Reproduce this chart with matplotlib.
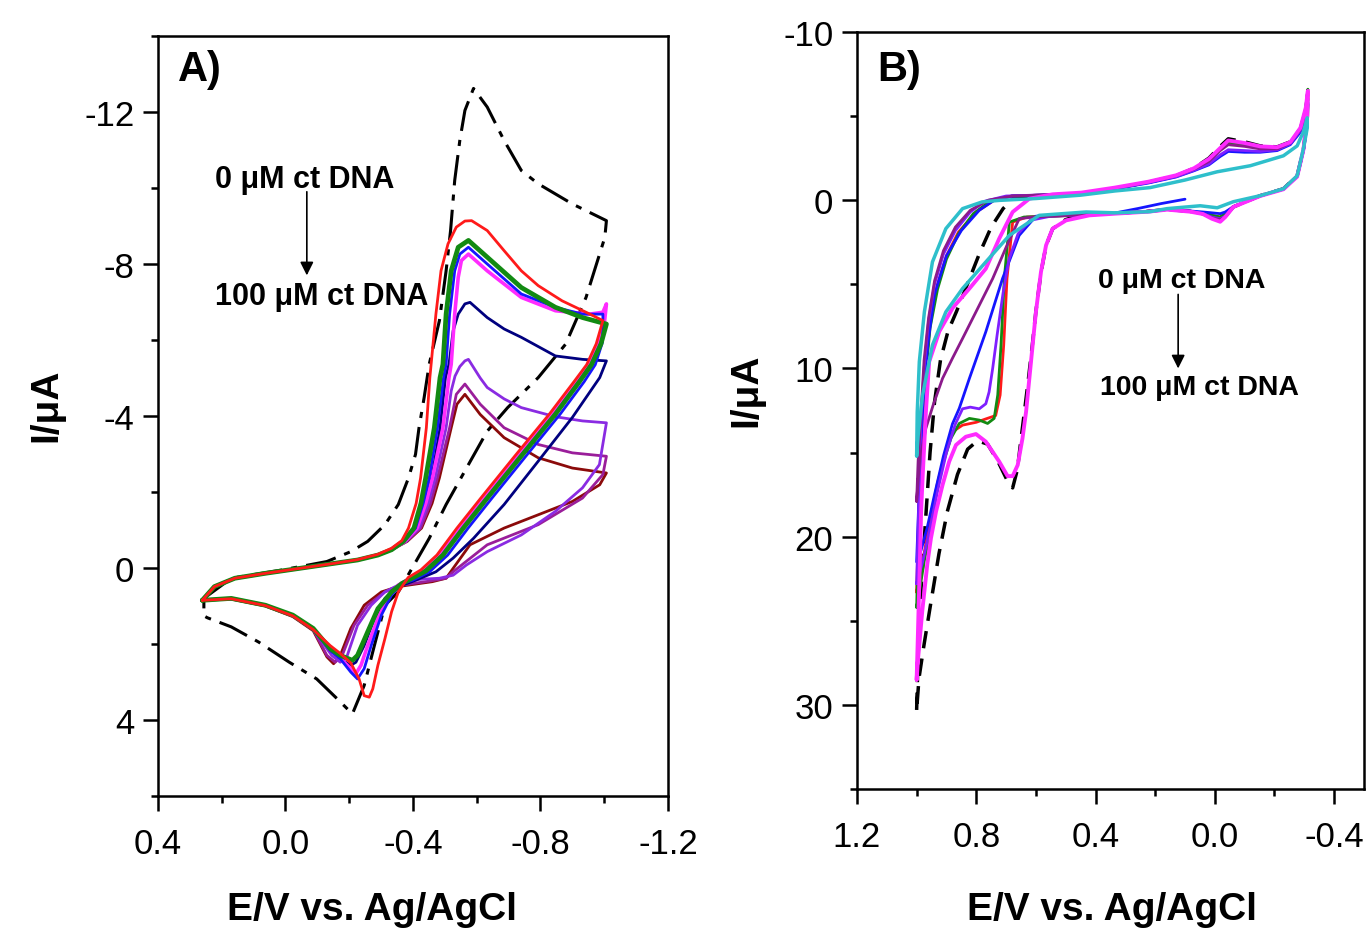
import matplotlib
matplotlib.use("Agg")
import matplotlib.pyplot as plt
from matplotlib.ticker import MultipleLocator, FormatStrFormatter

plt.rcParams["font.family"] = ["Liberation Sans", "DejaVu Sans"]
plt.rcParams["axes.unicode_minus"] = False

# ---------------- Panel A: (E / V, I / uA), one closed loop per curve ----------------
A_BLACK = [(0.256, 0.80), (0.170, 0.27), (0.009, 0.05), (-0.130, -0.17), (-0.205, -0.43),
           (-0.258, -0.70), (-0.312, -1.14), (-0.354, -1.67), (-0.386, -2.37), (-0.408, -2.99),
           (-0.419, -3.69), (-0.435, -4.48), (-0.451, -5.36), (-0.483, -6.51), (-0.504, -7.82),
           (-0.518, -8.88), (-0.531, -10.20), (-0.547, -11.25), (-0.563, -12.04), (-0.590, -12.62),
           (-0.633, -12.13), (-0.686, -11.25), (-0.740, -10.46), (-0.793, -10.11), (-0.900, -9.58),
           (-1.007, -9.14), (-1.002, -8.70), (-0.943, -7.12), (-0.879, -5.89), (-0.793, -5.01),
           (-0.697, -4.22), (-0.633, -3.60), (-0.568, -2.63), (-0.504, -1.67), (-0.451, -0.78),
           (-0.397, 0.01), (-0.354, 0.63), (-0.312, 0.98), (-0.279, 2.04), (-0.247, 3.09),
           (-0.210, 3.84), (-0.162, 3.44), (-0.098, 2.92), (-0.012, 2.48), (0.084, 1.95),
           (0.170, 1.55), (0.245, 1.31), (0.256, 1.26), (0.256, 0.80)]

A_RED = [(0.261, 0.85), (0.223, 0.49), (0.159, 0.27), (0.063, 0.14), (-0.044, 0.01),
         (-0.151, -0.12), (-0.226, -0.22), (-0.290, -0.36), (-0.333, -0.52), (-0.365, -0.72),
         (-0.386, -1.05), (-0.410, -1.70), (-0.424, -2.37), (-0.442, -3.69), (-0.453, -5.01),
         (-0.472, -6.68), (-0.488, -7.82), (-0.510, -8.53), (-0.536, -8.97), (-0.563, -9.13),
         (-0.584, -9.14), (-0.633, -8.88), (-0.686, -8.35), (-0.740, -7.82), (-0.793, -7.43),
         (-0.868, -7.03), (-0.943, -6.73), (-0.996, -6.51), (-0.975, -5.90), (-0.945, -5.35),
         (-0.905, -4.90), (-0.828, -4.05), (-0.720, -2.95), (-0.613, -1.84), (-0.538, -1.05),
         (-0.475, -0.34), (-0.425, 0.05), (-0.385, 0.25), (-0.354, 0.63), (-0.333, 1.15),
         (-0.312, 1.86), (-0.290, 2.56), (-0.274, 3.18), (-0.263, 3.40), (-0.247, 3.36),
         (-0.231, 2.92), (-0.205, 2.50), (-0.172, 2.25), (-0.140, 2.04), (-0.087, 1.62),
         (-0.023, 1.26), (0.063, 0.99), (0.170, 0.81), (0.261, 0.85)]

A_GREEN = [(0.261, 0.85), (0.223, 0.49), (0.159, 0.27), (0.063, 0.14), (-0.044, 0.01),
           (-0.151, -0.12), (-0.226, -0.21), (-0.290, -0.34), (-0.333, -0.48), (-0.370, -0.70),
           (-0.403, -1.05), (-0.425, -1.70), (-0.440, -2.37), (-0.467, -3.69), (-0.485, -5.01),
           (-0.494, -5.36), (-0.504, -6.68), (-0.520, -7.82), (-0.542, -8.44), (-0.574, -8.62),
           (-0.633, -8.18), (-0.740, -7.38), (-0.847, -6.86), (-0.932, -6.59), (-1.007, -6.42),
           (-0.990, -5.90), (-0.960, -5.35), (-0.922, -4.90), (-0.847, -4.05), (-0.740, -2.95),
           (-0.633, -1.84), (-0.558, -1.05), (-0.494, -0.34), (-0.440, 0.08), (-0.390, 0.30),
           (-0.365, 0.41), (-0.333, 0.63), (-0.290, 1.07), (-0.258, 1.68), (-0.226, 2.30),
           (-0.210, 2.43), (-0.172, 2.30), (-0.140, 2.12), (-0.087, 1.59), (-0.023, 1.24),
           (0.063, 0.98), (0.170, 0.80), (0.261, 0.85)]

A_BLUE = [(0.261, 0.85), (0.223, 0.49), (0.159, 0.27), (0.063, 0.14), (-0.044, 0.01),
          (-0.151, -0.12), (-0.226, -0.21), (-0.290, -0.34), (-0.333, -0.48), (-0.372, -0.70),
          (-0.408, -1.05), (-0.432, -1.70), (-0.451, -2.37), (-0.477, -3.69), (-0.496, -5.01),
          (-0.504, -5.36), (-0.515, -6.68), (-0.531, -7.82), (-0.547, -8.26), (-0.574, -8.44),
          (-0.633, -8.00), (-0.740, -7.21), (-0.847, -6.86), (-0.932, -6.68), (-0.996, -6.68),
          (-0.995, -5.95), (-0.972, -5.35), (-0.937, -4.90), (-0.862, -4.05), (-0.755, -2.95),
          (-0.648, -1.84), (-0.573, -1.05), (-0.509, -0.34), (-0.452, 0.10), (-0.400, 0.32),
          (-0.365, 0.41), (-0.333, 0.71), (-0.301, 1.24), (-0.269, 2.04), (-0.247, 2.65),
          (-0.226, 2.92), (-0.205, 2.74), (-0.172, 2.39), (-0.140, 2.17), (-0.087, 1.62),
          (-0.023, 1.26), (0.063, 0.99), (0.170, 0.81), (0.261, 0.85)]

A_MAGENTA = [(0.261, 0.85), (0.223, 0.49), (0.159, 0.27), (0.063, 0.14), (-0.044, 0.01),
             (-0.151, -0.12), (-0.226, -0.21), (-0.290, -0.34), (-0.333, -0.48), (-0.375, -0.70),
             (-0.413, -1.05), (-0.440, -1.70), (-0.461, -2.37), (-0.494, -3.69), (-0.513, -5.01),
             (-0.520, -5.36), (-0.531, -6.68), (-0.542, -7.65), (-0.552, -8.09), (-0.574, -8.26),
             (-0.633, -7.82), (-0.740, -7.12), (-0.847, -6.77), (-0.954, -6.68), (-0.996, -6.73),
             (-1.007, -6.95), (-1.000, -6.40), (-0.982, -5.90), (-0.952, -5.35), (-0.912, -4.90),
             (-0.837, -4.05), (-0.730, -2.95), (-0.623, -1.84), (-0.548, -1.05), (-0.484, -0.34),
             (-0.432, 0.08), (-0.385, 0.30), (-0.354, 0.45), (-0.322, 0.80), (-0.290, 1.33),
             (-0.258, 2.04), (-0.237, 2.56), (-0.221, 2.78), (-0.194, 2.56), (-0.162, 2.30),
             (-0.140, 2.14), (-0.087, 1.60), (-0.023, 1.25), (0.063, 0.98), (0.170, 0.80),
             (0.261, 0.85)]

A_NAVY = [(0.261, 0.85), (0.223, 0.49), (0.159, 0.27), (0.063, 0.14), (-0.044, 0.01),
          (-0.151, -0.12), (-0.226, -0.21), (-0.290, -0.34), (-0.333, -0.48), (-0.375, -0.70),
          (-0.413, -1.05), (-0.438, -1.70), (-0.459, -2.37), (-0.485, -3.69), (-0.502, -5.01),
          (-0.513, -5.36), (-0.526, -6.24), (-0.542, -6.68), (-0.563, -6.95), (-0.579, -6.99),
          (-0.633, -6.59), (-0.686, -6.29), (-0.740, -6.07), (-0.847, -5.58), (-0.932, -5.49),
          (-1.007, -5.45), (-0.986, -5.01), (-0.900, -3.96), (-0.793, -2.81), (-0.686, -1.67),
          (-0.590, -0.78), (-0.526, -0.26), (-0.472, 0.10), (-0.397, 0.36), (-0.354, 0.49),
          (-0.312, 0.80), (-0.279, 1.33), (-0.247, 2.04), (-0.221, 2.48), (-0.205, 2.56),
          (-0.178, 2.43), (-0.145, 2.19), (-0.087, 1.60), (-0.023, 1.25), (0.063, 0.98),
          (0.170, 0.80), (0.261, 0.85)]

A_VIOLET = [(0.261, 0.85), (0.223, 0.49), (0.159, 0.27), (0.063, 0.14), (-0.044, 0.01),
            (-0.151, -0.12), (-0.226, -0.21), (-0.290, -0.34), (-0.333, -0.48), (-0.378, -0.70),
            (-0.419, -1.05), (-0.448, -1.70), (-0.470, -2.37), (-0.504, -3.69), (-0.520, -4.66),
            (-0.532, -5.05), (-0.547, -5.30), (-0.563, -5.45), (-0.574, -5.49), (-0.611, -5.00),
            (-0.633, -4.75), (-0.686, -4.45), (-0.740, -4.22), (-0.847, -3.98), (-0.932, -3.87),
            (-1.007, -3.82), (-0.985, -2.72), (-0.932, -2.11), (-0.847, -1.49), (-0.740, -0.87),
            (-0.633, -0.43), (-0.568, -0.08), (-0.526, 0.19), (-0.483, 0.27), (-0.419, 0.30),
            (-0.354, 0.45), (-0.312, 0.63), (-0.269, 0.98), (-0.226, 1.51), (-0.194, 2.30),
            (-0.172, 2.48), (-0.145, 2.30), (-0.087, 1.62), (-0.023, 1.26), (0.063, 0.99),
            (0.170, 0.81), (0.261, 0.85)]

A_PURPLE = [(0.261, 0.85), (0.223, 0.49), (0.159, 0.27), (0.063, 0.14), (-0.044, 0.01),
            (-0.151, -0.12), (-0.226, -0.21), (-0.290, -0.34), (-0.333, -0.48), (-0.380, -0.70),
            (-0.424, -1.05), (-0.455, -1.70), (-0.477, -2.37), (-0.515, -3.69), (-0.536, -4.57),
            (-0.563, -4.84), (-0.611, -4.31), (-0.686, -3.69), (-0.793, -3.25), (-0.900, -3.03),
            (-1.007, -2.94), (-0.996, -2.46), (-0.932, -1.84), (-0.793, -1.14), (-0.633, -0.61),
            (-0.526, 0.10), (-0.504, 0.27), (-0.440, 0.36), (-0.365, 0.45), (-0.312, 0.63),
            (-0.258, 0.98), (-0.215, 1.51), (-0.178, 2.30), (-0.156, 2.48), (-0.130, 2.30),
            (-0.087, 1.62), (-0.023, 1.26), (0.063, 0.99), (0.170, 0.81), (0.261, 0.85)]

A_MAROON = [(0.261, 0.85), (0.223, 0.49), (0.159, 0.27), (0.063, 0.14), (-0.044, 0.01),
            (-0.151, -0.12), (-0.226, -0.21), (-0.290, -0.34), (-0.333, -0.48), (-0.382, -0.70),
            (-0.427, -1.05), (-0.460, -1.70), (-0.483, -2.37), (-0.520, -3.69), (-0.538, -4.31),
            (-0.563, -4.57), (-0.611, -4.04), (-0.686, -3.43), (-0.793, -2.90), (-0.900, -2.63),
            (-1.007, -2.50), (-0.986, -2.19), (-0.900, -1.75), (-0.793, -1.40), (-0.686, -1.05),
            (-0.579, -0.61), (-0.526, 0.01), (-0.504, 0.27), (-0.461, 0.36), (-0.419, 0.41),
            (-0.354, 0.49), (-0.301, 0.63), (-0.247, 0.98), (-0.205, 1.59), (-0.172, 2.30),
            (-0.151, 2.52), (-0.130, 2.34), (-0.087, 1.65), (-0.023, 1.28), (0.063, 1.00),
            (0.170, 0.82), (0.261, 0.85)]

# ---------------- Panel B ----------------
B_BLACK = [(1.000, 30.3), (0.995, 27.0), (0.985, 23.0), (0.970, 19.0), (0.955, 15.0), (0.940, 12.0),
           (0.920, 9.5), (0.895, 7.8), (0.866, 6.6), (0.830, 5.0), (0.790, 3.2), (0.750, 1.6),
           (0.710, 0.5), (0.672, -0.19), (0.550, -0.30), (0.448, -0.39), (0.335, -0.70),
           (0.223, -1.07), (0.130, -1.45), (0.070, -1.90), (0.020, -2.50), (-0.018, -3.20),
           (-0.045, -3.65), (-0.100, -3.47), (-0.152, -3.23), (-0.209, -3.17), (-0.253, -3.47),
           (-0.287, -4.24), (-0.305, -5.40), (-0.312, -6.40), (-0.310, -4.90), (-0.297, -3.00),
           (-0.276, -1.45), (-0.230, -0.68), (-0.152, -0.27), (-0.062, 0.40), (-0.035, 0.95),
           (-0.018, 1.22), (0.010, 1.05), (0.040, 0.80), (0.083, 0.66), (0.160, 0.55),
           (0.223, 0.66), (0.335, 0.78), (0.448, 0.88), (0.500, 1.15), (0.544, 1.70),
           (0.566, 2.70), (0.583, 4.30), (0.600, 6.60), (0.612, 8.60), (0.625, 10.60),
           (0.638, 12.50), (0.650, 14.20), (0.662, 16.00), (0.678, 17.10), (0.695, 16.70),
           (0.728, 15.50), (0.762, 14.50), (0.796, 14.30), (0.829, 14.80), (0.863, 16.30),
           (0.897, 18.50), (0.925, 21.00), (0.953, 24.00), (0.975, 26.40), (0.992, 28.40),
           (1.000, 30.30)]

B_MAGENTA = [(1.000, 28.5), (0.996, 26.0), (0.990, 22.0), (0.985, 18.5), (0.980, 16.5), (0.969, 12.6),
             (0.958, 9.6), (0.924, 7.8), (0.879, 6.4), (0.823, 5.25), (0.768, 4.07), (0.723, 2.28),
             (0.678, 0.70), (0.622, -0.09), (0.544, -0.35), (0.448, -0.45), (0.335, -0.75),
             (0.223, -1.10), (0.130, -1.48), (0.070, -1.90), (0.020, -2.45), (-0.018, -3.10),
             (-0.045, -3.55), (-0.100, -3.40), (-0.152, -3.20), (-0.209, -3.15), (-0.253, -3.45),
             (-0.287, -4.30), (-0.305, -5.50), (-0.312, -6.50), (-0.310, -5.00), (-0.297, -3.00),
             (-0.276, -1.40), (-0.230, -0.65), (-0.152, -0.25), (-0.062, 0.40), (-0.035, 1.00),
             (-0.018, 1.28), (0.010, 1.10), (0.040, 0.82), (0.083, 0.68), (0.160, 0.56),
             (0.223, 0.68), (0.335, 0.80), (0.421, 0.90), (0.499, 1.20), (0.544, 1.69),
             (0.566, 2.68), (0.583, 4.26), (0.600, 6.64), (0.611, 8.61), (0.622, 10.59),
             (0.633, 12.57), (0.645, 14.15), (0.661, 15.74), (0.678, 16.40), (0.695, 16.40),
             (0.723, 15.54), (0.768, 14.35), (0.801, 13.90), (0.835, 14.06), (0.868, 14.55),
             (0.891, 15.54), (0.913, 16.92), (0.935, 18.51), (0.952, 20.09), (0.964, 21.60),
             (0.981, 24.40), (0.995, 27.20), (1.000, 28.50)]

B_RED = [(1.000, 23.3), (0.995, 20.0), (0.990, 16.5), (0.982, 13.0), (0.970, 10.0), (0.955, 7.3),
         (0.930, 5.0), (0.900, 3.3), (0.860, 1.9), (0.800, 0.7), (0.740, 0.0), (0.680, -0.25),
         (0.550, -0.32), (0.448, -0.42), (0.335, -0.72), (0.223, -1.08), (0.130, -1.45),
         (0.070, -1.85), (0.020, -2.30), (-0.018, -3.00), (-0.045, -3.40), (-0.100, -3.30),
         (-0.152, -3.15), (-0.209, -3.12), (-0.253, -3.42), (-0.287, -4.20), (-0.305, -5.30),
         (-0.312, -6.30), (-0.310, -4.80), (-0.297, -3.00), (-0.276, -1.45), (-0.230, -0.68),
         (-0.152, -0.27), (-0.062, 0.40), (-0.035, 0.80), (-0.018, 1.00), (0.010, 0.90),
         (0.040, 0.78), (0.083, 0.66), (0.160, 0.55), (0.223, 0.66), (0.335, 0.78),
         (0.448, 0.88), (0.550, 0.95), (0.630, 1.00), (0.678, 1.30), (0.697, 4.66),
         (0.708, 8.61), (0.720, 11.58), (0.735, 12.80), (0.768, 13.00), (0.800, 13.20),
         (0.846, 13.37), (0.879, 13.76), (0.900, 14.80), (0.930, 16.80), (0.955, 19.00),
         (0.980, 21.50), (1.000, 23.30)]

B_GREEN = [(1.000, 24.2), (0.995, 20.5), (0.990, 17.0), (0.982, 13.5), (0.970, 10.5), (0.955, 7.6),
           (0.930, 5.3), (0.900, 3.5), (0.860, 2.0), (0.810, 0.8), (0.750, 0.0), (0.680, -0.25),
           (0.550, -0.32), (0.448, -0.42), (0.335, -0.72), (0.223, -1.08), (0.130, -1.45),
           (0.070, -1.85), (0.020, -2.35), (-0.018, -3.05), (-0.045, -3.45), (-0.100, -3.32),
           (-0.152, -3.15), (-0.209, -3.12), (-0.253, -3.45), (-0.287, -4.25), (-0.305, -5.50),
           (-0.312, -6.60), (-0.310, -5.00), (-0.297, -3.00), (-0.276, -1.45), (-0.230, -0.68),
           (-0.152, -0.27), (-0.062, 0.40), (-0.035, 0.80), (-0.018, 1.00), (0.010, 0.90),
           (0.040, 0.78), (0.083, 0.66), (0.160, 0.55), (0.223, 0.66), (0.335, 0.78),
           (0.448, 0.88), (0.550, 0.95), (0.640, 1.00), (0.689, 1.30), (0.706, 4.66),
           (0.717, 8.61), (0.728, 11.58), (0.740, 12.97), (0.762, 13.27), (0.790, 13.07),
           (0.823, 12.97), (0.857, 13.27), (0.885, 14.15), (0.913, 15.74), (0.935, 17.52),
           (0.952, 19.50), (0.975, 21.50), (0.990, 23.20), (1.000, 24.20)]

B_BLUE = [(0.100, -0.06), (0.180, 0.20), (0.257, 0.49), (0.335, 0.76), (0.448, 0.88), (0.550, 0.92),
          (0.600, 0.95), (0.656, 2.09), (0.712, 4.66), (0.768, 7.82), (0.823, 10.59), (0.857, 12.37),
          (0.880, 13.30), (0.910, 15.20), (0.940, 17.50), (0.965, 19.50), (0.985, 20.80),
          (1.000, 21.50), (0.995, 19.0), (0.988, 15.5), (0.978, 12.0), (0.962, 8.5), (0.940, 5.6),
          (0.900, 3.3), (0.850, 1.8), (0.790, 0.6), (0.740, 0.0), (0.680, -0.25), (0.550, -0.32),
          (0.448, -0.40), (0.335, -0.68), (0.223, -1.02), (0.130, -1.38), (0.070, -1.75),
          (0.020, -2.10), (-0.018, -2.60), (-0.045, -2.90), (-0.100, -2.85), (-0.152, -2.85),
          (-0.209, -2.95), (-0.253, -3.30), (-0.287, -4.05), (-0.305, -5.00), (-0.312, -5.80),
          (-0.310, -4.50), (-0.297, -2.90), (-0.276, -1.40), (-0.230, -0.66), (-0.152, -0.26),
          (-0.062, 0.38), (-0.035, 0.70), (-0.018, 0.80), (0.010, 0.75), (0.040, 0.70),
          (0.083, 0.64), (0.160, 0.55), (0.223, 0.66), (0.300, 0.76)]

B_VIOLET = [(1.000, 22.8), (0.995, 19.5), (0.990, 16.0), (0.985, 13.0), (0.975, 10.0), (0.960, 7.2),
            (0.940, 5.0), (0.910, 3.2), (0.870, 1.8), (0.820, 0.7), (0.770, 0.05), (0.700, -0.25),
            (0.550, -0.33), (0.448, -0.42), (0.335, -0.70), (0.223, -1.05), (0.130, -1.40),
            (0.070, -1.78), (0.020, -2.15), (-0.018, -2.70), (-0.045, -3.00), (-0.100, -2.95),
            (-0.152, -2.90), (-0.209, -3.00), (-0.253, -3.35), (-0.287, -4.15), (-0.305, -5.10),
            (-0.312, -6.00), (-0.310, -4.60), (-0.297, -2.95), (-0.276, -1.42), (-0.230, -0.67),
            (-0.152, -0.26), (-0.062, 0.40), (-0.035, 0.95), (-0.018, 1.10), (0.010, 1.00),
            (0.040, 0.80), (0.083, 0.66), (0.160, 0.55), (0.223, 0.66), (0.335, 0.78),
            (0.448, 0.88), (0.550, 0.95), (0.620, 1.20), (0.660, 2.00), (0.690, 3.50),
            (0.710, 5.50), (0.730, 8.00), (0.745, 10.00), (0.757, 11.40), (0.768, 12.10),
            (0.790, 12.40), (0.820, 12.30), (0.846, 12.40), (0.870, 13.30), (0.900, 15.00),
            (0.930, 17.30), (0.955, 19.50), (0.980, 21.50), (1.000, 22.80)]

B_PURPLE = [(1.000, 17.9), (0.995, 15.5), (0.985, 12.5), (0.975, 9.5), (0.960, 7.0), (0.940, 4.8),
            (0.910, 3.0), (0.870, 1.6), (0.820, 0.6), (0.760, 0.0), (0.680, -0.25), (0.550, -0.33),
            (0.448, -0.42), (0.335, -0.72), (0.223, -1.08), (0.130, -1.45), (0.070, -1.85),
            (0.020, -2.30), (-0.018, -2.95), (-0.045, -3.30), (-0.100, -3.20), (-0.152, -3.05),
            (-0.209, -3.05), (-0.253, -3.40), (-0.287, -4.20), (-0.305, -5.20), (-0.312, -6.10),
            (-0.310, -4.70), (-0.297, -3.00), (-0.276, -1.42), (-0.230, -0.67), (-0.152, -0.26),
            (-0.062, 0.40), (-0.035, 1.00), (-0.018, 1.15), (0.010, 1.05), (0.040, 0.82),
            (0.083, 0.67), (0.160, 0.55), (0.223, 0.67), (0.335, 0.79), (0.448, 0.88),
            (0.550, 0.95), (0.610, 1.00), (0.656, 1.10), (0.700, 2.80), (0.745, 4.66),
            (0.800, 6.60), (0.846, 8.22), (0.880, 9.40), (0.913, 10.59), (0.945, 12.20),
            (0.969, 13.56), (0.990, 15.50), (1.000, 17.90)]

B_CYAN = [(1.000, 15.2), (0.998, 12.6), (0.991, 9.6), (0.974, 6.64), (0.947, 3.67), (0.902, 1.69),
          (0.846, 0.50), (0.780, 0.10), (0.723, 0.01), (0.600, -0.10), (0.450, -0.30),
          (0.335, -0.55), (0.217, -0.75), (0.100, -1.20), (-0.008, -1.69), (-0.119, -2.05),
          (-0.230, -2.64), (-0.276, -3.23), (-0.297, -4.07), (-0.310, -4.90), (-0.310, -4.30),
          (-0.297, -3.06), (-0.276, -1.45), (-0.230, -0.68), (-0.152, -0.27), (-0.062, 0.09),
          (-0.008, 0.45), (0.049, 0.33), (0.160, 0.50), (0.217, 0.68), (0.335, 0.75),
          (0.432, 0.70), (0.589, 0.90), (0.689, 2.09), (0.768, 3.67), (0.846, 5.25),
          (0.902, 6.64), (0.947, 8.61), (0.980, 11.58), (0.995, 14.00), (1.000, 15.20)]

LABEL_TOP = "0 \u03bcM ct DNA"
LABEL_BOTTOM = "100 \u03bcM ct DNA"


def draw(ax, points, **style):
    e, i = zip(*points)
    ax.plot(e, i, solid_joinstyle="round", solid_capstyle="round", **style)


def style_axes(ax, xlim, ylim, xstep, ystep):
    ax.set_xlim(*xlim)
    ax.set_ylim(*ylim)
    ax.xaxis.set_major_locator(MultipleLocator(xstep))
    ax.xaxis.set_minor_locator(MultipleLocator(xstep / 2))
    ax.yaxis.set_major_locator(MultipleLocator(ystep))
    ax.yaxis.set_minor_locator(MultipleLocator(ystep / 2))
    ax.xaxis.set_major_formatter(FormatStrFormatter("%.1f"))
    ax.yaxis.set_major_formatter(FormatStrFormatter("%d"))
    ax.tick_params(which="both", direction="out", width=1.8, top=False, right=False)
    ax.tick_params(which="major", length=11, labelsize=25)
    ax.tick_params(which="minor", length=5)
    ax.tick_params(axis="x", pad=11)
    ax.tick_params(axis="y", pad=6)
    for spine in ax.spines.values():
        spine.set_linewidth(1.8)


def arrow(ax, x, y0, y1):
    ax.annotate("", xy=(x, y1), xytext=(x, y0),
                arrowprops=dict(arrowstyle="-|>", color="black", lw=1.2,
                                mutation_scale=20, shrinkA=0, shrinkB=0))


fig = plt.figure(figsize=(13.69, 9.29), dpi=100)
fig.patch.set_facecolor("white")

# ---- panel A ----
ax = fig.add_axes([0.1154, 0.1421, 0.3725, 0.8181])
style_axes(ax, (0.4, -1.2), (6, -14), 0.4, 4)
draw(ax, A_BLACK, color="black", lw=2.2, linestyle=(0, (10, 3, 2, 3)))
draw(ax, A_MAROON, color="#8B0A0A", lw=2.0)
draw(ax, A_PURPLE, color="#9A1E9A", lw=2.0)
draw(ax, A_VIOLET, color="#8A2BE2", lw=2.0)
draw(ax, A_NAVY, color="#00007F", lw=2.0)
draw(ax, A_MAGENTA, color="#FF2BFF", lw=2.6)
draw(ax, A_BLUE, color="#1515FF", lw=2.0)
draw(ax, A_GREEN, color="#128A12", lw=3.4)
draw(ax, A_RED, color="#FF1A1A", lw=2.0)

ax.text(0.04, 0.957, "A)", transform=ax.transAxes, fontsize=30, fontweight="bold",
        ha="left", va="center")
ax.text(0.222, -10.24, LABEL_TOP, fontsize=22, fontweight="bold", va="center")
ax.text(0.222, -7.16, LABEL_BOTTOM, fontsize=22, fontweight="bold", va="center")
arrow(ax, -0.067, -9.90, -7.70)
ax.set_xlabel("E/V vs. Ag/AgCl", fontsize=28, fontweight="bold")
ax.set_ylabel("I/\u03bcA", fontsize=28, fontweight="bold")
ax.xaxis.set_label_coords(0.42, -0.125)
ax.yaxis.set_label_coords(-0.184, 0.516)

# ---- panel B ----
bx = fig.add_axes([0.6260, 0.1496, 0.3703, 0.8149])
style_axes(bx, (1.2, -0.5), (35, -10), 0.4, 10)
draw(bx, B_BLACK, color="black", lw=2.5, linestyle=(0, (5, 3)))
draw(bx, B_RED, color="#FF1A1A", lw=2.0)
draw(bx, B_GREEN, color="#128A12", lw=2.0)
draw(bx, B_BLUE, color="#1515FF", lw=2.0)
draw(bx, B_VIOLET, color="#7F1FFF", lw=2.0)
draw(bx, B_PURPLE, color="#8B1A8B", lw=2.0)
draw(bx, B_MAGENTA, color="#FF2BFF", lw=2.8)
draw(bx, B_CYAN, color="#2EBFCB", lw=2.5)

bx.text(0.04, 0.951, "B)", transform=bx.transAxes, fontsize=30, fontweight="bold",
        ha="left", va="center")
bx.text(0.391, 4.72, LABEL_TOP, fontsize=20.5, fontweight="bold", va="center")
bx.text(0.385, 11.13, LABEL_BOTTOM, fontsize=20.5, fontweight="bold", va="center")
arrow(bx, 0.123, 5.6, 10.0)
bx.set_xlabel("E/V vs. Ag/AgCl", fontsize=28, fontweight="bold")
bx.set_ylabel("I/\u03bcA", fontsize=28, fontweight="bold")
bx.xaxis.set_label_coords(0.503, -0.135)
bx.yaxis.set_label_coords(-0.183, 0.528)

fig.savefig("out.png", dpi=100, facecolor="white")
plt.close(fig)
